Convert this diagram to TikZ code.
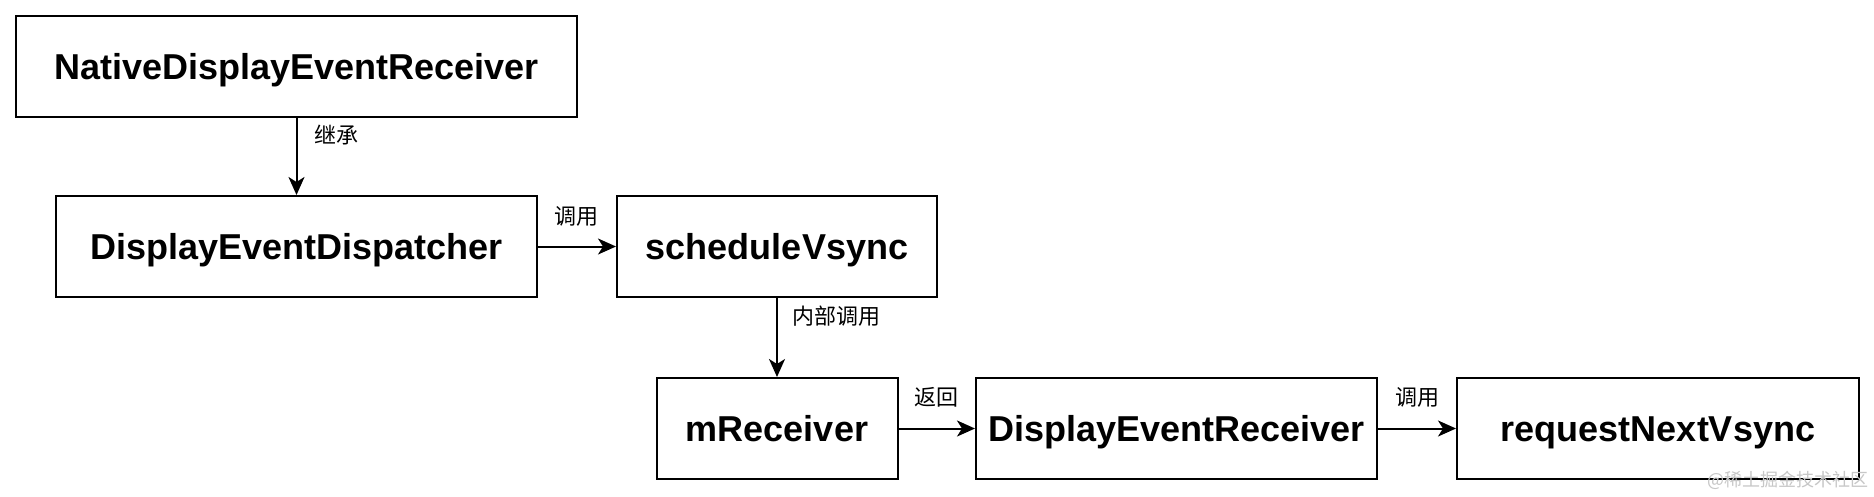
\documentclass[tikz,border=0pt]{standalone}
\usepackage{fontspec}
\setmainfont{Liberation Sans}
\newfontfamily\cjk{Noto Sans CJK SC}
\usetikzlibrary{arrows.meta}
\begin{document}
\begin{tikzpicture}[x=1pt,y=-1pt,
  box/.style={draw=black,line width=2pt,minimum height=101pt,inner sep=0pt,
    text height=25.8pt,text depth=0pt,
    font=\fontsize{36}{40}\selectfont\bfseries},
  conn/.style={line width=2pt,-{Stealth[length=18pt,width=16pt,inset=5pt]}},
  lbl/.style={font=\cjk\fontsize{22}{26}\selectfont,inner sep=0pt},
  wm/.style={font=\cjk\fontsize{18}{22}\selectfont,text=black!22,inner sep=0pt}]
\useasboundingbox (0,0) rectangle (1874,496);
\fill[white] (0,0) rectangle (1874,496);
\node[box,minimum width=561pt] (n1) at (296.5,66.5) {NativeDisplayEventReceiver};
\node[box,minimum width=481pt] (n2) at (296.5,246.5) {DisplayEventDispatcher};
\node[box,minimum width=320pt] (n3) at (777,246.5) {scheduleVsync};
\node[box,minimum width=241pt] (n4) at (777,428.5) {mReceiver};
\node[box,minimum width=401pt] (n5) at (1176.5,428.5) {DisplayEventReceiver};
\node[box,minimum width=402pt] (n6) at (1658,428.5) {requestNextVsync};
\draw[conn] (n1) -- (n2);
\draw[conn] (n2) -- (n3);
\draw[conn] (n3) -- (n4);
\draw[conn] (n4) -- (n5);
\draw[conn] (n5) -- (n6);
\node[lbl] (l1) at (336,135) {继承};
\node[lbl] (l2) at (576,216) {调用};
\node[lbl] (l3) at (836,316) {内部调用};
\node[lbl] (l4) at (936,397) {返回};
\node[lbl] (l5) at (1417,397) {调用};
\node[wm] (w) at (1788,480) {@稀土掘金技术社区};
\end{tikzpicture}
\end{document}
